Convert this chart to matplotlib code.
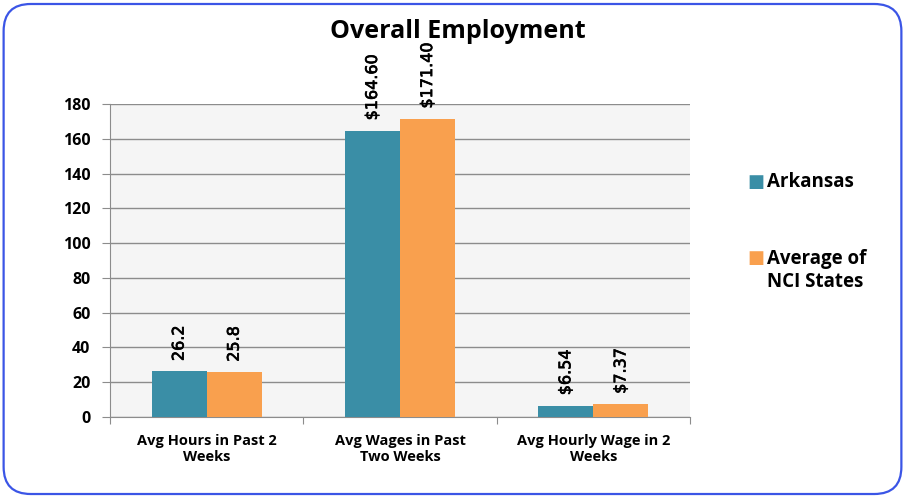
import numpy as np
import matplotlib.pyplot as plt
import matplotlib.patheffects as pe
from matplotlib.patches import FancyBboxPatch

# data
categories = ["Avg Hours in Past 2\nWeeks", "Avg Wages in Past\nTwo Weeks", "Avg Hourly Wage in 2\nWeeks"]
arkansas = [26.2, 164.60, 6.54]
nci_avg = [25.8, 171.40, 7.37]
arkansas_labels = ["26.2", "$164.60", "$6.54"]
nci_labels = ["25.8", "$171.40", "$7.37"]

teal = "#3A8EA6"
orange = "#F9A04E"

fig = plt.figure(figsize=(9.05, 4.99), dpi=100)
ax = fig.add_axes([0.1215, 0.1643, 0.641, 0.6273])

# rounded blue frame around everything
frame = FancyBboxPatch((0.004, 0.01), 0.992, 0.982, boxstyle="round,pad=0,rounding_size=0.03",
                       transform=fig.transFigure, facecolor="none", edgecolor="#3B55E6",
                       linewidth=1.6, mutation_aspect=905 / 499)
fig.patches.append(frame)

x = np.arange(len(categories))
w = 0.285
ax.bar(x - w / 2, arkansas, w, color=teal, zorder=3)
ax.bar(x + w / 2, nci_avg, w, color=orange, zorder=3)

# value labels, a bit heavier like the original
thick = [pe.withStroke(linewidth=0.5, foreground="black")]
for i in range(len(x)):
    ax.text(x[i] - w / 2, arkansas[i] + 6, arkansas_labels[i], rotation=90, ha="center", va="bottom",
            fontsize=11.5, family="DejaVu Sans", path_effects=thick)
    ax.text(x[i] + w / 2, nci_avg[i] + 6, nci_labels[i], rotation=90, ha="center", va="bottom",
            fontsize=11.5, family="DejaVu Sans", path_effects=thick)

ax.set_xlim(-0.5, 2.5)
ax.set_ylim(0, 180)
ax.set_yticks(np.arange(0, 181, 20))
ax.set_facecolor("#F5F5F5")
ax.grid(axis="y", color="#8C8C8C", linewidth=1, zorder=0)
ax.set_xticks([-0.5, 0.5, 1.5, 2.5], minor=False)
ax.set_xticklabels([])
ax.set_xticks(x, minor=True)
ax.set_xticklabels(categories, minor=True, fontsize=10.5, fontweight="bold", family="Open Sans")
ax.tick_params(axis="x", which="minor", length=0, pad=12)
ax.tick_params(axis="x", which="major", length=5, color="#8C8C8C")
ax.tick_params(axis="y", length=6, color="#8C8C8C", labelsize=11.5, pad=8)
for lab in ax.get_yticklabels():
    lab.set_fontweight("bold")
    lab.set_family("Open Sans")
for s in ["top", "right"]:
    ax.spines[s].set_visible(False)
ax.spines["left"].set_color("#8C8C8C")
ax.spines["bottom"].set_color("#8C8C8C")

fig.text(0.506, 0.937, "Overall Employment", ha="center", va="center", fontsize=18,
         fontweight="bold", family="Open Sans")

# legend
fig.text(0.826, 0.635, "\u25A0", color=teal, fontsize=13, va="center", ha="left")
fig.text(0.847, 0.635, "Arkansas", fontsize=13.5, fontweight="bold", family="Open Sans", va="center")
fig.text(0.826, 0.483, "\u25A0", color=orange, fontsize=13, va="center", ha="left")
fig.text(0.847, 0.458, "Average of\nNCI States", fontsize=13.5, fontweight="bold", family="Open Sans",
         va="center", linespacing=1.2)

plt.savefig("out.png", dpi=100)
